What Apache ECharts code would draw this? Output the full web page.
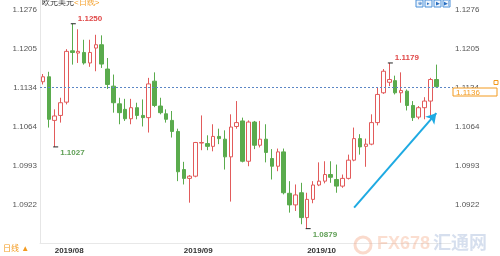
<!DOCTYPE html>
<html><head><meta charset="utf-8">
<script src="https://cdn.jsdelivr.net/npm/echarts@6/dist/echarts.min.js"></script>
<style>html,body{margin:0;padding:0;background:#fff}#c{width:500px;height:256px}</style>
</head><body><div id="c"></div>
<script>
const categories = [
 '2019/07/30','2019/07/31',
 '2019/08/01','2019/08/02','2019/08/05','2019/08/06','2019/08/07','2019/08/08','2019/08/09','2019/08/12','2019/08/13','2019/08/14','2019/08/15','2019/08/16','2019/08/19','2019/08/20','2019/08/21','2019/08/22','2019/08/23','2019/08/26','2019/08/27','2019/08/28','2019/08/29','2019/08/30',
 '2019/09/02','2019/09/03','2019/09/04','2019/09/05','2019/09/06','2019/09/09','2019/09/10','2019/09/11','2019/09/12','2019/09/13','2019/09/16','2019/09/17','2019/09/18','2019/09/19','2019/09/20','2019/09/23','2019/09/24','2019/09/25','2019/09/26','2019/09/27','2019/09/30',
 '2019/10/01','2019/10/02','2019/10/03','2019/10/04','2019/10/07','2019/10/08','2019/10/09','2019/10/10','2019/10/11','2019/10/14','2019/10/15','2019/10/16','2019/10/17','2019/10/18','2019/10/21','2019/10/22','2019/10/23','2019/10/24','2019/10/25','2019/10/28','2019/10/29','2019/10/30','2019/10/31'
];
const opens  = [1.1145,1.1154,1.1075,1.1084,1.1108,1.1201,1.1197,1.1198,1.1179,1.1206,1.1212,1.1168,1.1137,1.1105,1.1095,1.1078,1.1098,1.1084,1.1080,1.1146,1.1101,1.1087,1.1075,1.1055,1.0986,1.0970,1.0974,1.1034,1.1033,1.1028,1.1046,1.1041,1.1009,1.1064,1.1074,1.1001,1.1072,1.1030,1.1041,1.1006,1.0992,1.1018,1.0943,1.0922,1.0944,1.0899,1.0932,1.0958,1.0965,1.0977,1.0968,1.0956,1.0970,1.1003,1.1042,1.1028,1.1032,1.1071,1.1125,1.1144,1.1147,1.1125,1.1128,1.1102,1.1081,1.1098,1.1110,1.1149];
const closes = [1.1154,1.1077,1.1083,1.1107,1.1200,1.1198,1.1200,1.1179,1.1198,1.1212,1.1177,1.1140,1.1107,1.1089,1.1078,1.1098,1.1084,1.1080,1.1141,1.1102,1.1089,1.1077,1.1055,1.0982,1.0970,1.0974,1.1035,1.1035,1.1028,1.1046,1.1042,1.1009,1.1063,1.1071,1.1001,1.1072,1.1030,1.1041,1.1017,1.0992,1.1018,1.0944,1.0922,1.0940,1.0899,1.0932,1.0958,1.0965,1.0977,1.0972,1.0956,1.0970,1.1003,1.1042,1.1027,1.1032,1.1071,1.1122,1.1164,1.1149,1.1125,1.1129,1.1102,1.1080,1.1098,1.1110,1.1149,1.1136];
const lows   = [1.1140,1.1062,1.1027,1.1071,1.1104,1.1176,1.1179,1.1176,1.1172,1.1164,1.1170,1.1132,1.1089,1.1068,1.1074,1.1068,1.1077,1.1064,1.1053,1.1099,1.1086,1.1071,1.1044,1.0965,1.0959,1.0926,1.0972,1.1021,1.1021,1.1019,1.1032,1.0986,1.0928,1.1060,1.0999,1.0992,1.1023,1.1026,1.0999,1.0968,1.0983,1.0941,1.0908,1.0911,1.0887,1.0879,1.0925,1.0956,1.0961,1.0962,1.0944,1.0953,1.0968,1.1001,1.1013,1.0991,1.1030,1.1066,1.1123,1.1137,1.1122,1.1107,1.1093,1.1074,1.1077,1.1077,1.1074,1.1134];
const highs  = [1.1159,1.1163,1.1095,1.1116,1.1204,1.1250,1.1240,1.1221,1.1221,1.1230,1.1229,1.1188,1.1158,1.1116,1.1114,1.1114,1.1107,1.1113,1.1152,1.1162,1.1116,1.1095,1.1092,1.1060,1.1000,1.0976,1.1036,1.1084,1.1048,1.1068,1.1060,1.1057,1.1086,1.1110,1.1080,1.1075,1.1074,1.1074,1.1068,1.1023,1.1024,1.1024,1.0965,1.0959,1.0962,1.0944,1.0965,1.0999,1.1001,1.1001,1.0995,1.0977,1.1013,1.1062,1.1050,1.1042,1.1086,1.1134,1.1168,1.1179,1.1156,1.1162,1.1131,1.1110,1.1101,1.1117,1.1152,1.1176];
const yTickValues = [1.0922, 1.0993, 1.1064, 1.1134, 1.1205, 1.1276];
const extremeIdx  = [5, 2, 45, 59];
const extremeVal  = [1.1250, 1.1027, 1.0879, 1.1179];
const extremeKind = ['high', 'low', 'low', 'high'];
const trendIdx = [53, 67];
const trendVal = [1.0917, 1.1088];
const lastClose = closes[closes.length - 1];

const UP = '#e25b5b', DOWN = '#5aab4d', ORANGE = '#f39a1e';
const FONT = '"Liberation Sans", Arial, "Noto Sans CJK SC", sans-serif';
const GRID = {left: 40, right: 49, top: 0, bottom: 13};

const candleData = opens.map((o, i) => [o, closes[i], lows[i], highs[i]]);
const markPts = extremeIdx.map((ix, k) => {
  const hi = extremeKind[k] === 'high';
  return {
    coord: [ix, extremeVal[k]], value: extremeVal[k],
    label: {show: true, position: 'right', distance: 2, offset: hi ? [0, -5] : [0, 6],
      color: hi ? '#e04848' : '#5f9f55', fontSize: 8, fontWeight: 'bold', fontFamily: FONT,
      formatter: p => Number(p.value).toFixed(4)}
  };
});

const chart = echarts.init(document.getElementById('c'), null, {renderer: 'canvas'});
const yAxisBase = {
  type: 'value', min: 1.0853, max: 1.1293, scale: true,
  splitLine: {show: false}, axisTick: {show: false},
  axisLabel: {customValues: yTickValues, fontSize: 8, color: '#555', fontFamily: FONT, margin: 3,
    formatter: v => Number(v).toFixed(4)}
};
chart.setOption({
  animation: false,
  backgroundColor: '#fff',
  grid: GRID,
  xAxis: {
    type: 'category', data: categories, max: 69, boundaryGap: true,
    axisTick: {show: false},
    axisLine: {lineStyle: {color: '#e8e8e8'}},
    splitLine: {show: false},
    axisLabel: {
      interval: (i, v) => typeof v === 'string' && (i === 0 ? false : v.slice(0, 7) !== (categories[i - 1] || '').slice(0, 7)),
      formatter: v => v ? v.slice(0, 7) : '',
      align: 'left', fontSize: 8, color: '#333', fontWeight: 'bold', fontFamily: FONT, margin: 4
    }
  },
  yAxis: [
    Object.assign({}, yAxisBase, {position: 'left', axisLine: {show: true, lineStyle: {color: '#e6e6e6'}}}),
    Object.assign({}, yAxisBase, {position: 'right', axisLine: {show: false}, axisLabel: Object.assign({}, yAxisBase.axisLabel, {margin: 4})})
  ],
  series: [{
    type: 'candlestick', data: candleData, barWidth: 4,
    itemStyle: {color: '#fff', color0: DOWN, borderColor: UP, borderColor0: DOWN, borderWidth: 1},
    markPoint: {
      symbol: 'rect', symbolSize: [5, 1], symbolOffset: [1, 0],
      itemStyle: {color: '#222'}, data: markPts
    },
    markLine: {
      silent: true, symbol: ['none', 'none'], label: {show: false},
      data: [
        [{coord: [trendIdx[0], trendVal[0]], symbol: 'none'},
         {coord: [trendIdx[1], trendVal[1]], symbol: 'arrow', symbolSize: [9, 10],
          lineStyle: {color: '#1eaae2', width: 2, type: 'solid'}}]
      ]
    }
  }]
});

const ly = Math.round(chart.convertToPixel({yAxisIndex: 0}, lastClose)) + 0.5;
const gx0 = GRID.left, gx1 = 500 - GRID.right;
const icons = ['⊕', '▸', '▶', '▶|'];
const g = [
  {type: 'line', shape: {x1: gx0, y1: ly, x2: gx1 + 2, y2: ly}, z: 5,
    style: {stroke: '#5b86c5', lineWidth: 1, lineDash: [2, 2]}},
  {type: 'text', left: 42, top: -1, z: 10, style: {
    text: '{a|欧元美元}{b|<日线>}', fontFamily: FONT,
    rich: {a: {fontSize: 8, fill: '#333'}, b: {fontSize: 8, fill: ORANGE}}}},
  {type: 'text', left: 3, top: 245, z: 10, style: {text: '日线 ▲', fontSize: 8, fill: ORANGE, fontFamily: FONT}},
  {type: 'rect', shape: {x: 453, y: ly + 0.5, width: 44, height: 8}, z: 20,
    style: {fill: '#fff', stroke: ORANGE, lineWidth: 1}},
  {type: 'text', x: 456, y: ly + 1, z: 21, style: {text: lastClose.toFixed(4), fontSize: 8, fill: ORANGE, fontFamily: FONT, textVerticalAlign: 'top'}},
  {type: 'rect', shape: {x: 494, y: ly - 7, width: 4, height: 4}, z: 21, style: {fill: '#fff', stroke: ORANGE, lineWidth: 1}},
  {type: 'text', left: 377, top: 235, z: 1, style: {text: 'FX678', fontSize: 18, fontWeight: 'bold', fill: 'rgba(244,160,120,0.35)', fontFamily: FONT}},
  {type: 'text', left: 433, top: 235, z: 1, style: {text: '汇通网', fontSize: 18, fontWeight: 'bold', fill: 'rgba(120,150,200,0.3)', fontFamily: FONT}},
  {type: 'circle', shape: {cx: 363, cy: 245, r: 8}, z: 1, style: {fill: 'none', stroke: 'rgba(240,150,110,0.35)', lineWidth: 3}}
];
icons.forEach((t, k) => {
  g.push({type: 'rect', shape: {x: 416 + k * 9, y: 0, width: 7, height: 7}, z: 10, style: {fill: '#eef5fc', stroke: '#4a90d9', lineWidth: 1}});
  g.push({type: 'text', x: 419.5 + k * 9, y: 3.5, z: 11, style: {text: t, fontSize: 5, fill: '#2a6fc0', textAlign: 'center', textVerticalAlign: 'middle'}});
});
chart.setOption({graphic: g});
</script>
</body></html>
